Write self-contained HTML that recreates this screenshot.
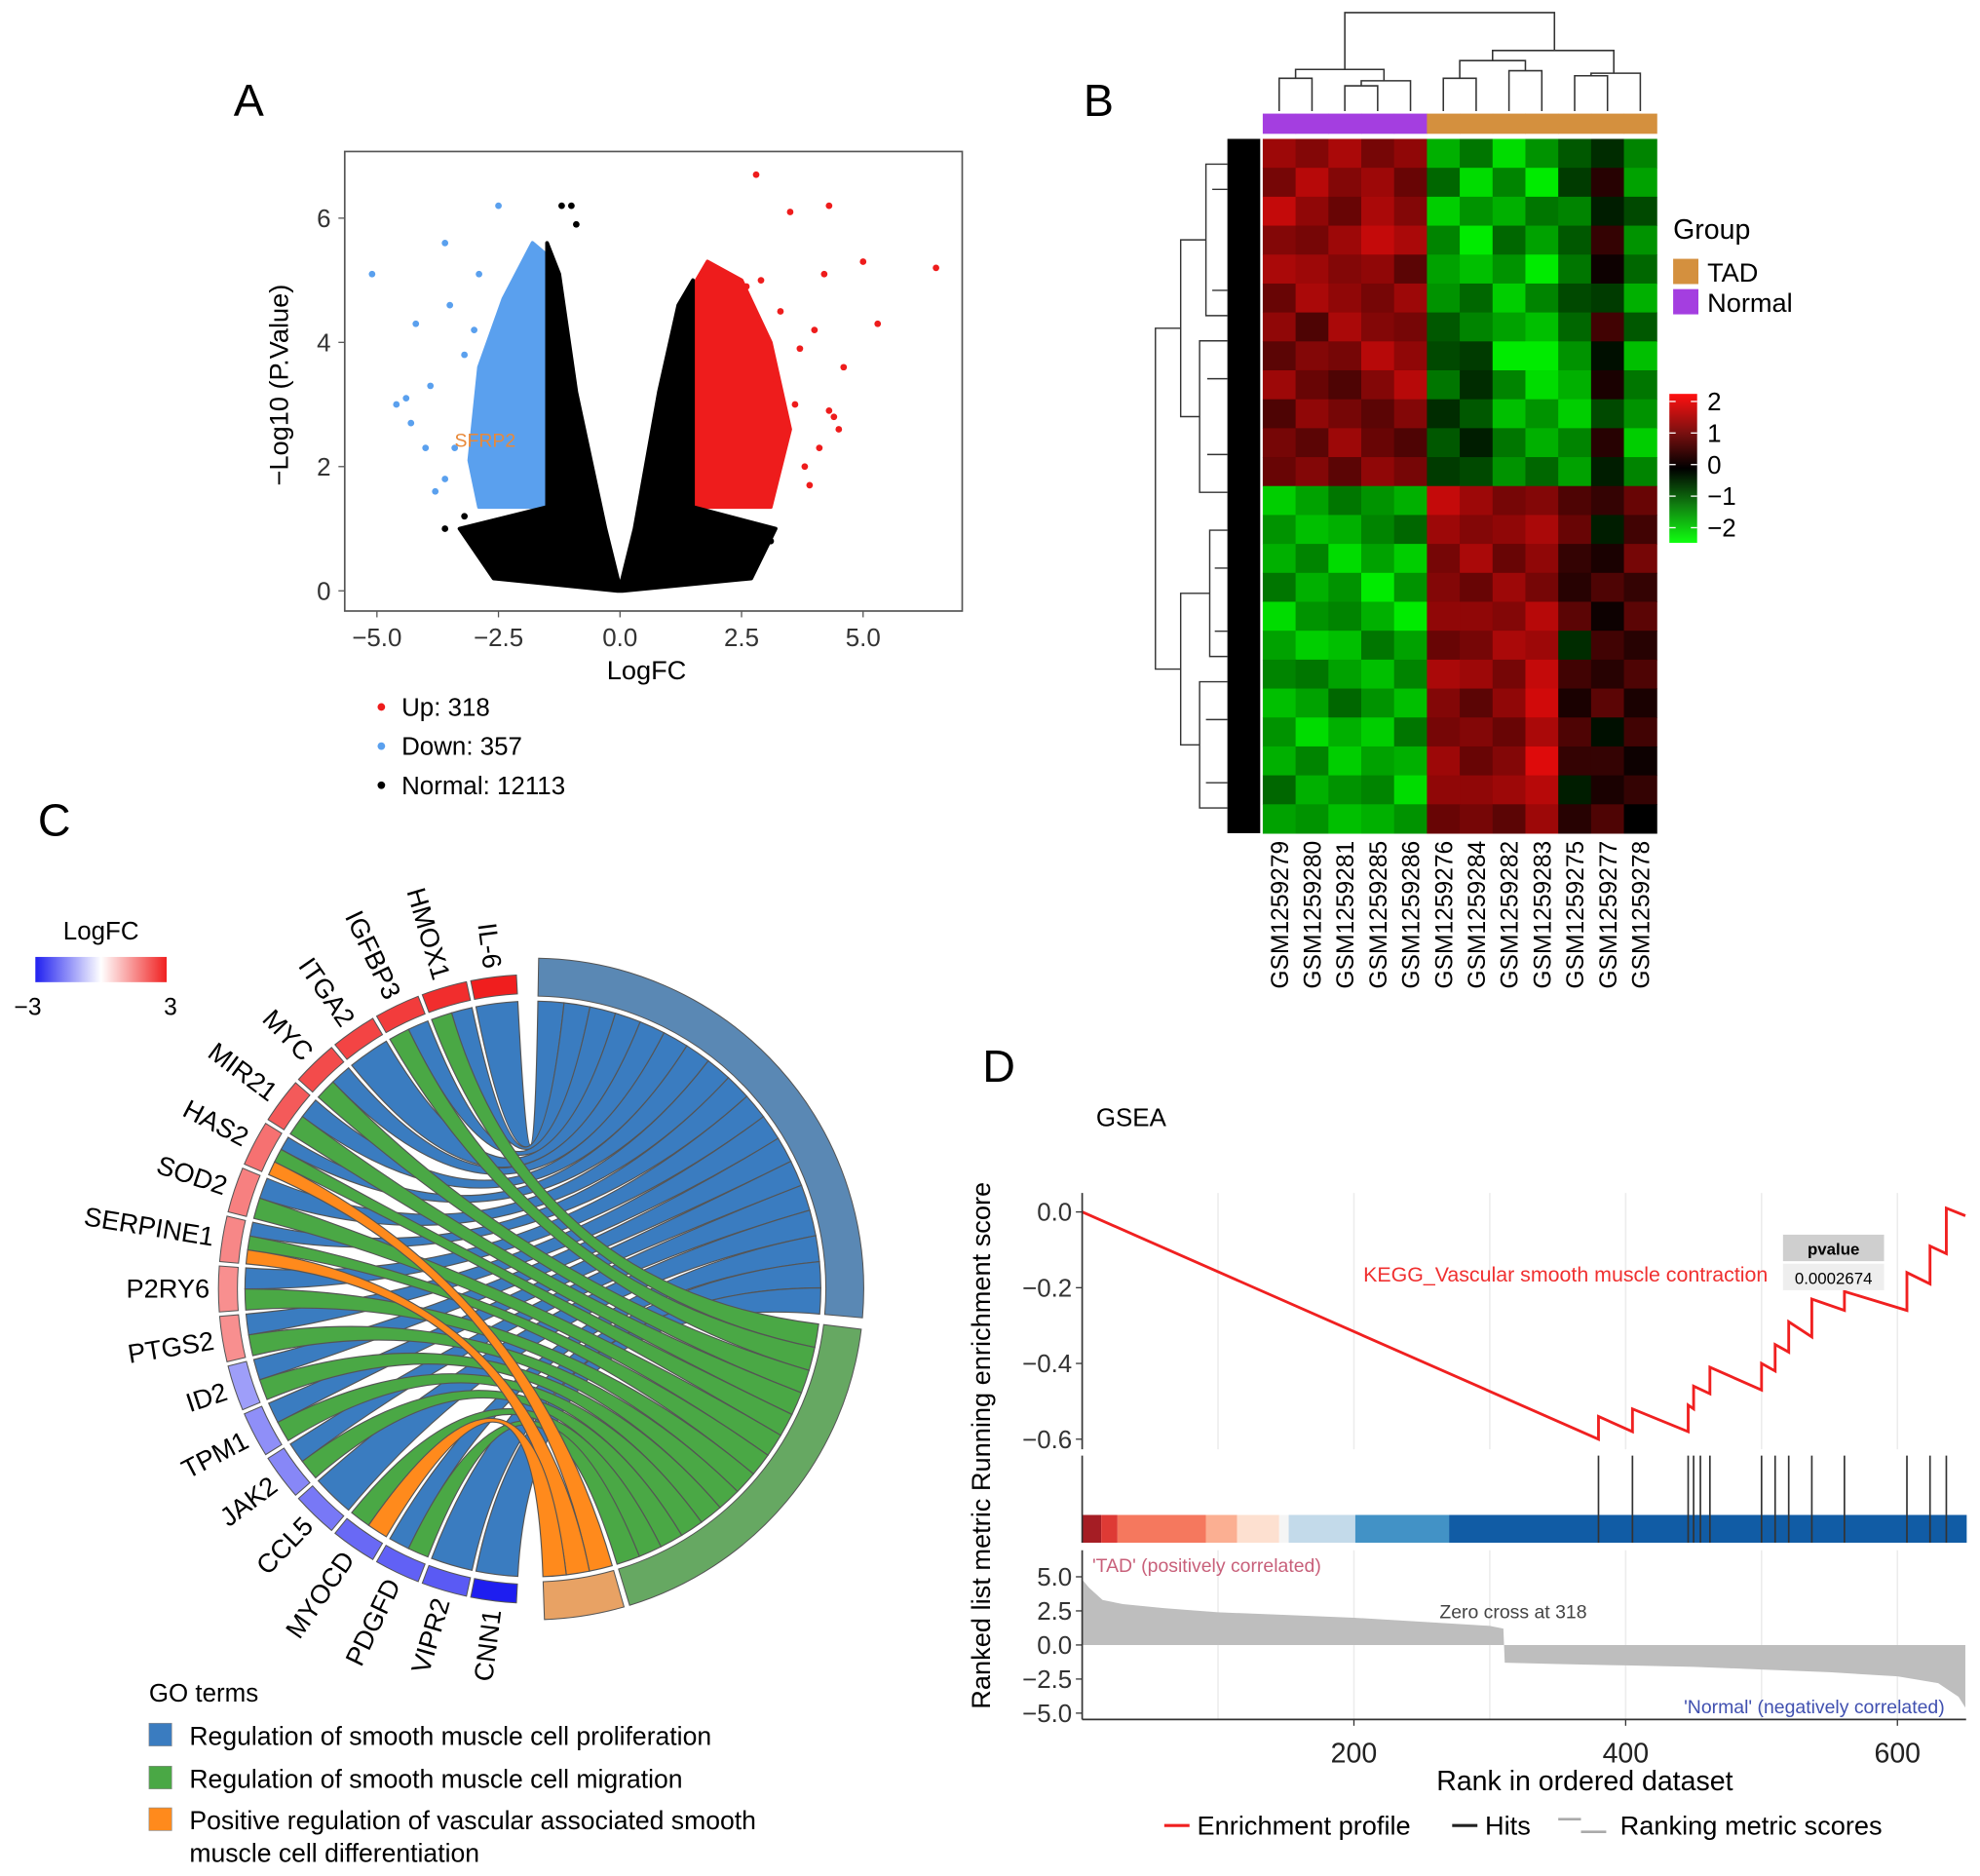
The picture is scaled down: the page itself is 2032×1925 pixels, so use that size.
<!DOCTYPE html>
<html><head><meta charset="utf-8"><style>
html,body{margin:0;padding:0;background:#fff;}
svg{display:block;font-family:"Liberation Sans",Arial,sans-serif;}
</style></head><body>
<svg id="fig" xmlns="http://www.w3.org/2000/svg" width="2032" height="1925" viewBox="0 0 1568 1486" preserveAspectRatio="none">
<defs>
<linearGradient id="hmgrad" x1="0" y1="0" x2="0" y2="1">
<stop offset="0" stop-color="#ff1010"/><stop offset="0.25" stop-color="#801010"/><stop offset="0.5" stop-color="#000"/><stop offset="0.75" stop-color="#108010"/><stop offset="1" stop-color="#10ff10"/></linearGradient>
<linearGradient id="fcgrad" x1="0" y1="0" x2="1" y2="0">
<stop offset="0" stop-color="#2020f0"/><stop offset="0.5" stop-color="#ffffff"/><stop offset="1" stop-color="#f02020"/></linearGradient>
</defs>
<g id="A"></g>
<g id="B"></g>
<g id="C"></g>
<g id="D"></g>
</svg>
<script>
// ---------- DATA ----------
const volcanoUpX=[2.8,3.5,4.3,5.0,6.5,5.3,4.6,4.2,4.0,4.3,4.1,3.8,3.6,3.3,3.7,4.4,3.1,2.9,3.9,4.5,3.2,2.6];
const volcanoUpY=[6.7,6.1,6.2,5.3,5.2,4.3,3.6,5.1,4.2,2.9,2.3,2.0,3.0,4.5,3.9,2.8,1.6,5.0,1.7,2.6,3.4,4.9];
const volcanoDownX=[-5.1,-2.5,-3.6,-4.2,-4.6,-4.3,-3.9,-3.5,-4.0,-3.6,-3.2,-3.4,-4.4,-3.0,-2.9,-3.8];
const volcanoDownY=[5.1,6.2,5.6,4.3,3.0,2.7,3.3,4.6,2.3,1.8,3.8,2.3,3.1,4.2,5.1,1.6];
const volcanoNormX=[-1.2,-1.0,-3.2,-2.8,-0.9,-3.6,3.1];
const volcanoNormY=[6.2,6.2,1.2,0.9,5.9,1.0,0.8];
const blackCloud=[[-0.05,0],[-2.6,0.2],[-3.3,1.0],[-1.5,1.35],[-1.5,5.6],[-1.25,5.1],[-0.9,3.2],[-0.3,1.0],[0,0.05],[0.3,1.0],[0.8,3.2],[1.2,4.6],[1.5,5.0],[1.5,1.35],[3.2,1.0],[2.7,0.2],[0.05,0]];
const blueCloud=[[-1.5,1.35],[-2.9,1.35],[-3.1,2.1],[-2.9,3.6],[-2.4,4.7],[-1.8,5.6],[-1.5,5.4]];
const redCloud=[[1.5,1.35],[3.1,1.35],[3.5,2.6],[3.1,4.0],[2.5,5.0],[1.8,5.3],[1.5,4.9]];
const volcanoXTicks=[-5.0,-2.5,0.0,2.5,5.0];
const volcanoYTicks=[0,2,4,6];

const heatSamples=["GSM1259279","GSM1259280","GSM1259281","GSM1259285","GSM1259286","GSM1259276","GSM1259284","GSM1259282","GSM1259283","GSM1259275","GSM1259277","GSM1259278"];
const heatGroups=["Normal","Normal","Normal","Normal","Normal","TAD","TAD","TAD","TAD","TAD","TAD","TAD"];
const heatValues=[
[1.2,1.0,1.3,0.9,1.1,-1.2,-0.8,-1.5,-1.0,-0.6,-0.3,-0.9],
[0.9,1.4,1.0,1.2,0.8,-0.7,-1.5,-0.9,-1.7,-0.4,0.3,-1.1],
[1.5,1.1,0.8,1.3,1.0,-1.4,-1.0,-1.2,-0.8,-0.9,-0.2,-0.5],
[1.0,0.9,1.2,1.5,1.3,-0.9,-1.8,-0.7,-1.1,-0.6,0.4,-1.0],
[1.3,1.2,1.0,1.1,0.7,-1.1,-1.3,-1.0,-1.6,-0.8,0.1,-0.7],
[0.8,1.3,1.1,0.9,1.2,-1.0,-0.7,-1.4,-0.9,-0.5,-0.4,-1.2],
[1.1,0.6,1.3,1.0,0.9,-0.6,-0.9,-1.1,-1.3,-0.7,0.5,-0.6],
[0.7,1.0,0.9,1.4,1.1,-0.5,-0.4,-1.6,-1.8,-1.0,-0.1,-1.3],
[1.2,0.8,0.6,1.0,1.4,-0.8,-0.3,-0.9,-1.5,-1.2,0.2,-0.8],
[0.6,1.1,0.9,0.7,1.0,-0.3,-0.6,-1.3,-1.0,-1.4,-0.5,-1.0],
[0.9,0.7,1.2,0.8,0.6,-0.6,-0.2,-0.8,-1.2,-0.9,0.3,-1.4],
[0.8,1.0,0.7,1.1,0.9,-0.4,-0.5,-1.0,-0.7,-1.1,-0.2,-0.9],
[-1.4,-1.1,-0.8,-1.0,-1.2,1.5,1.2,0.9,1.0,0.6,0.4,0.8],
[-1.0,-1.3,-1.2,-0.9,-0.7,1.2,1.0,1.1,1.3,0.8,-0.2,0.5],
[-1.2,-0.9,-1.5,-1.1,-1.4,0.9,1.3,0.8,1.1,0.4,0.2,0.9],
[-0.8,-1.2,-1.0,-1.6,-1.0,1.0,0.8,1.2,0.9,0.3,0.6,0.4],
[-1.5,-1.0,-0.9,-1.2,-1.6,1.1,1.1,1.0,1.4,0.7,0.1,0.7],
[-1.1,-1.4,-1.3,-0.8,-1.1,0.8,0.9,1.3,1.2,-0.3,0.5,0.3],
[-0.9,-0.8,-1.1,-1.3,-0.9,1.3,1.2,0.9,1.5,0.5,0.3,0.6],
[-1.3,-1.1,-0.7,-1.0,-1.3,1.0,0.7,1.1,1.6,0.2,0.7,0.2],
[-1.0,-1.5,-1.2,-1.4,-0.8,0.9,1.0,0.8,1.3,0.6,-0.1,0.5],
[-1.2,-0.9,-1.4,-1.1,-1.2,1.2,0.8,1.0,1.7,0.4,0.4,0.1],
[-0.7,-1.2,-1.0,-0.9,-1.5,1.1,1.1,1.2,1.4,-0.2,0.2,0.4],
[-1.1,-1.0,-1.3,-1.2,-1.0,0.8,0.9,0.7,1.2,0.3,0.6,0.0]];
const heatScaleTicks=[2,1,0,-1,-2];

const chordGenes=["IL-6","HMOX1","IGFBP3","ITGA2","MYC","MIR21","HAS2","SOD2","SERPINE1","P2RY6","PTGS2","ID2","TPM1","JAK2","CCL5","MYOCD","PDGFD","VIPR2","CNN1"];
const chordLogFC=[3.0,2.8,2.6,2.5,2.4,2.2,1.9,1.7,1.6,1.5,1.5,-1.3,-1.5,-1.6,-1.8,-2.0,-2.1,-2.2,-3.0];
const goTerms=["Regulation of smooth muscle cell proliferation","Regulation of smooth muscle cell migration","Positive regulation of vascular associated smooth muscle cell differentiation"];
const chordLinks=[[0,0],[1,0],[1,1],[2,0],[2,1],[3,0],[4,0],[4,1],[5,0],[5,1],[6,0],[6,1],[6,2],[7,0],[7,1],[8,0],[8,1],[8,2],[9,0],[9,1],[10,0],[10,1],[11,0],[11,1],[12,0],[12,1],[13,0],[13,1],[14,0],[15,1],[15,2],[16,0],[16,1],[17,0],[18,0]];

const esRanks=[0,380,380,405,405,446,446,450,450,462,462,500,500,510,510,520,520,537,537,561,561,607,607,624,624,636,636,650];
const esValues=[0,-0.60,-0.54,-0.58,-0.52,-0.58,-0.51,-0.52,-0.46,-0.48,-0.41,-0.47,-0.40,-0.42,-0.35,-0.37,-0.29,-0.33,-0.23,-0.26,-0.21,-0.26,-0.16,-0.19,-0.09,-0.11,0.01,-0.01];
const hitRanks=[380,405,446,450,455,462,500,510,520,537,561,607,624,636];
const metricRanks=[0,5,15,30,60,100,150,200,250,300,310,311,350,400,450,500,550,600,630,645,650];
const metricValues=[4.8,4.2,3.3,3.0,2.7,2.4,2.2,2.0,1.7,1.4,1.2,-1.3,-1.4,-1.5,-1.6,-1.8,-2.0,-2.3,-2.8,-3.8,-4.6];
const esTicks=[0.0,-0.2,-0.4,-0.6];
const metricTicks=[5.0,2.5,0.0,-2.5,-5.0];
const rankTicks=[200,400,600];

// ---------- HELPERS ----------
const NS='http://www.w3.org/2000/svg';
function mk(p,tag,at,txt){const e=document.createElementNS(NS,tag);for(const k in at)e.setAttribute(k,at[k]);if(txt!=null)e.textContent=txt;p.appendChild(e);return e;}
const fmt=v=>(v<0?'\u2212':'')+Math.abs(v).toFixed(1);

// ---------- PANEL A ----------
(function(){
const g=document.getElementById('A');
const xA=v=>491+v*38.5, yA=v=>468-v*49.2;
let t=mk(g,'text',{x:185,y:92,'font-size':36},'A');


const poly=(pts,fill,name)=>{const e=mk(g,'polygon',{points:pts.map(p=>xA(p[0])+','+yA(p[1])).join(' '),fill:fill,stroke:fill,'stroke-width':3,'stroke-linejoin':'round'});

};
poly(blueCloud,'#5aa0ee','down-points-cloud');
poly(redCloud,'#ee1c1c','up-points-cloud');
poly(blackCloud,'#000','normal-points-cloud');
const dots=(xs,ys,c,name)=>xs.forEach((x,i)=>{const d=mk(g,'circle',{cx:xA(x),cy:yA(ys[i]),r:2.6,fill:c});

});
dots(volcanoUpX,volcanoUpY,'#ee1c1c','up-point');
dots(volcanoDownX,volcanoDownY,'#5aa0ee','down-point');
dots(volcanoNormX,volcanoNormY,'#000','normal-point');
const box=mk(g,'rect',{x:273,y:120,width:489,height:364,fill:'none',stroke:'#555','stroke-width':1.3});


volcanoXTicks.forEach(v=>{mk(g,'line',{x1:xA(v),x2:xA(v),y1:484,y2:489,stroke:'#555'});
const e=mk(g,'text',{x:xA(v),y:512,'font-size':20,'text-anchor':'middle',fill:'#333'},fmt(v));

});
volcanoYTicks.forEach(v=>{mk(g,'line',{x1:268,x2:273,y1:yA(v),y2:yA(v),stroke:'#555'});
const e=mk(g,'text',{x:262,y:yA(v)+7,'font-size':20,'text-anchor':'end',fill:'#333'},String(v));

});
t=mk(g,'text',{x:512,y:538,'font-size':21,'text-anchor':'middle'},'LogFC');


t=mk(g,'text',{x:0,y:0,'font-size':21,'text-anchor':'middle',transform:'translate(228,305) rotate(-90)'},'\u2212Log10 (P.Value)');


t=mk(g,'text',{x:360,y:354,'font-size':15,fill:'#e8893a'},'SFRP2');


[['#ee1c1c','Up: 318'],['#5aa0ee','Down: 357'],['#000','Normal: 12113']].forEach((l,i)=>{
const y=560+i*31;
const c=mk(g,'circle',{cx:302,cy:y,r:3,fill:l[0]});


const e=mk(g,'text',{x:318,y:y+7,'font-size':20},l[1]);

});
})();

// ---------- PANEL B ----------
(function(){
const g=document.getElementById('B');
const x0=1000,cw=26,y0=110,rh=550/heatValues.length;
let t=mk(g,'text',{x:858,y:92,'font-size':36},'B');


const col=v=>{if(v>=0){const r=Math.round(Math.min(1,v/1.8)*235);return 'rgb('+r+','+Math.round(r*0.05)+','+Math.round(r*0.05)+')';}
const gg=Math.round(Math.min(1,-v/1.6)*235);return 'rgb(0,'+gg+',0)';};
heatValues.forEach((row,i)=>row.forEach((v,j)=>{
const r=mk(g,'rect',{x:x0+j*cw,y:y0+i*rh,width:cw+0.4,height:rh+0.4,fill:col(v)});

}));
heatGroups.forEach((gr,j)=>{const r=mk(g,'rect',{x:x0+j*cw,y:90,width:cw+0.4,height:16,fill:gr==='TAD'?'#d4903e':'#a43ee0'});

});
heatSamples.forEach((s,j)=>{const e=mk(g,'text',{x:0,y:0,'font-size':19,'text-anchor':'end',transform:'translate('+(x0+j*cw+cw/2+7)+',666) rotate(-90)'},s);

});
const cx=j=>x0+j*cw+cw/2;
const dg=mk(g,'path',{fill:'none',stroke:'#333','stroke-width':1.2,d:
`M${cx(0)},88V62H${cx(1)}V88 M${cx(2)},88V68H${cx(3)}V88 M${(cx(2)+cx(3))/2},68V64H${cx(4)}V88 M${(cx(0)+cx(1))/2},62V55H${(cx(2)+cx(4))/2+5}V64
M${cx(5)},88V62H${cx(6)}V88 M${cx(7)},88V56H${cx(8)}V88 M${(cx(5)+cx(6))/2},62V48H${(cx(7)+cx(8))/2}V56 M${cx(9)},88V60H${cx(10)}V88 M${(cx(9)+cx(10))/2},60V58H${cx(11)}V88 M${(cx(5)+cx(8))/2},48V40H${(cx(9)+cx(11))/2+5}V58
M${(cx(0)+cx(4))/2},55V10H${(cx(5)+cx(11))/2+10}V40`});


const lf=mk(g,'rect',{x:972,y:110,width:26,height:550,fill:'#000'});


let d='M972,130H955V250H972 M972,270H950V390H972 M955,190H935V330H950 M972,420H958V520H972 M972,540H950V640H972 M958,470H935V590H950 M935,260H915V530H935 M960,150H972 M960,230H972 M956,300H972 M956,360H972 M962,450H972 M962,500H972 M955,570H972 M955,620H972';
const rd=mk(g,'path',{d:d,fill:'none',stroke:'#333','stroke-width':1.1});


t=mk(g,'text',{x:1325,y:189,'font-size':22},'Group');


[['#d4903e','TAD',205],['#a43ee0','Normal',229]].forEach(l=>{
const r=mk(g,'rect',{x:1325,y:l[2],width:20,height:20,fill:l[0]});


const e=mk(g,'text',{x:1352,y:l[2]+18,'font-size':21},l[1]);

});
const cb=mk(g,'rect',{x:1322,y:312,width:22,height:118,fill:'url(#hmgrad)'});


heatScaleTicks.forEach((v,i)=>{const y=318+i*25;
mk(g,'line',{x1:1322,x2:1327,y1:y,y2:y,stroke:'#fff'});mk(g,'line',{x1:1339,x2:1344,y1:y,y2:y,stroke:'#fff'});
const e=mk(g,'text',{x:1352,y:y+7,'font-size':20},v<0?'\u2212'+(-v):String(v));

});
})();

// ---------- PANEL C ----------
(function(){
const g=document.getElementById('C');
const CX=422,CY=1021;
const pt=(a,r)=>[CX+r*Math.sin(a*Math.PI/180),CY-r*Math.cos(a*Math.PI/180)];
let t=mk(g,'text',{x:30,y:662,'font-size':36},'C');


t=mk(g,'text',{x:80,y:744,'font-size':20,'text-anchor':'middle'},'LogFC');


const fb=mk(g,'rect',{x:28,y:758,width:104,height:20,fill:'url(#fcgrad)'});


t=mk(g,'text',{x:22,y:804,'font-size':19,'text-anchor':'middle'},'\u22123');


t=mk(g,'text',{x:135,y:804,'font-size':19,'text-anchor':'middle'},'3');


const goRange=[[1,95],[97,163],[164,178]];
const goChord=['#3a7cc0','#4aa845','#ff8a1c'];
const goRing=['#5a88b4','#66a862','#e8a264'];
const geneRange=i=>{const s=-3-i*9.2;return [s,s-8.4];};
const geneCount=chordGenes.map((_,i)=>chordLinks.filter(l=>l[0]===i).length);
const goCount=goTerms.map((_,k)=>chordLinks.filter(l=>l[1]===k).length);
const geneUsed=chordGenes.map(()=>0), goUsed=goTerms.map(()=>0);
const R=228;
const arc=(a1,a2,r)=>{const p=pt(a2,r);return 'A'+r+','+r+' 0 0,0 '+p[0]+','+p[1];};
const ribbons=chordLinks.map(l=>{
const [gi,k]=l;const gr=geneRange(gi);const gw=(gr[0]-gr[1])/geneCount[gi];
const a1=gr[0]-geneUsed[gi]*gw,a2=a1-gw;geneUsed[gi]++;
const kr=goRange[k];const kw=(kr[1]-kr[0])/goCount[k];
const b1=kr[0]+goUsed[k]*kw,b2=b1+kw;goUsed[k]++;
return {k,a1,a2,b1,b2};});
[0,1,2].forEach(k=>ribbons.filter(r=>r.k===k).forEach(r=>{
const p1=pt(r.a1,R),p3=pt(r.b2,R);
const d='M'+p1+' '+arc(r.a1,r.a2,R)+' Q'+CX+','+CY+' '+p3+' '+arc(r.b2,r.b1,R)+' Q'+CX+','+CY+' '+p1+'Z';
const e=mk(g,'path',{d:d,fill:goChord[k],stroke:'#555','stroke-width':0.9});

}));
const seg=(a1,a2,r1,r2,fill,name,sweepNeg)=>{
const p1=pt(a1,r2),p2=pt(a2,r2),p3=pt(a2,r1),p4=pt(a1,r1);const sw=sweepNeg?0:1;
const lg=Math.abs(a2-a1)>180?1:0;
const d='M'+p1+' A'+r2+','+r2+' 0 '+lg+','+sw+' '+p2+' L'+p3+' A'+r1+','+r1+' 0 '+lg+','+(1-sw)+' '+p4+'Z';
const e=mk(g,'path',{d:d,fill:fill,stroke:'#555','stroke-width':0.8});

};
goTerms.forEach((_,k)=>seg(goRange[k][0],goRange[k][1],232,262,goRing[k],'go-term-sector',false));
const fcCol=v=>{const f=Math.min(1,Math.abs(v)/3);
if(v>=0)return 'rgb('+Math.round(255-15*f)+','+Math.round(255-225*f)+','+Math.round(255-225*f)+')';
return 'rgb('+Math.round(255-225*f)+','+Math.round(255-225*f)+','+Math.round(255-15*f)+')';};
chordGenes.forEach((name,i)=>{const gr=geneRange(i);
seg(gr[0],gr[1],234,249,fcCol(chordLogFC[i]),'gene-sector',true);
const am=(gr[0]+gr[1])/2;const p=pt(am,256);
const th=am*Math.PI/180;const rot=Math.atan2(Math.cos(th),-Math.sin(th))*180/Math.PI;
const e=mk(g,'text',{x:0,y:0,'font-size':21,'text-anchor':'end',transform:'translate('+p[0]+','+p[1]+') rotate('+rot+') translate(0,7)'},name);

});
t=mk(g,'text',{x:118,y:1348,'font-size':20},'GO terms');


[[1365,goTerms[0]],[1399,goTerms[1]],[1432,'Positive regulation of vascular associated smooth']].forEach((l,k)=>{
const r=mk(g,'rect',{x:118,y:l[0],width:18,height:18,fill:goChord[k],stroke:'#888','stroke-width':0.5});


const e=mk(g,'text',{x:150,y:l[0]+17,'font-size':20.5},l[1]);

});
t=mk(g,'text',{x:150,y:1475,'font-size':20.5},'muscle cell differentiation');


})();

// ---------- PANEL D ----------
(function(){
const g=document.getElementById('D');
const xD=r=>857+r*1.076, yES=v=>960-v*300, yM=v=>1303-v*10.8;
let t=mk(g,'text',{x:778,y:857,'font-size':36},'D');


t=mk(g,'text',{x:868,y:892,'font-size':20},'GSEA');


[100,200,300,400,500,600].forEach(r=>{
mk(g,'line',{x1:xD(r),x2:xD(r),y1:945,y2:1148,stroke:'#ececec','stroke-width':1.2});
mk(g,'line',{x1:xD(r),x2:xD(r),y1:1228,y2:1362,stroke:'#ececec','stroke-width':1.2});});
const es=mk(g,'polyline',{points:esRanks.map((r,i)=>xD(r)+','+yES(esValues[i])).join(' '),fill:'none',stroke:'#f02020','stroke-width':2.2});


mk(g,'line',{x1:857,x2:857,y1:945,y2:1148,stroke:'#333','stroke-width':1.3});
esTicks.forEach(v=>{mk(g,'line',{x1:852,x2:857,y1:yES(v),y2:yES(v),stroke:'#333'});
const e=mk(g,'text',{x:849,y:yES(v)+7,'font-size':20,'text-anchor':'end',fill:'#333'},fmt(v));

});
t=mk(g,'text',{x:1400,y:1015,'font-size':16.5,'text-anchor':'end',fill:'#f03030'},'KEGG_Vascular smooth muscle contraction');


let r=mk(g,'rect',{x:1412,y:978,width:80,height:21,fill:'#cfcfcf'});


t=mk(g,'text',{x:1452,y:994,'font-size':13,'font-weight':'bold','text-anchor':'middle'},'pvalue');


r=mk(g,'rect',{x:1412,y:1001,width:80,height:21,fill:'#eeeeee'});


t=mk(g,'text',{x:1452,y:1017,'font-size':13,'text-anchor':'middle'},'0.0002674');


const strip=[[0,14,'#a51d24'],[14,26,'#de3a35'],[26,91,'#f5785e'],[91,114,'#fbaf92'],[114,145,'#fde0d0'],[145,152,'#f5f5f5'],[152,201,'#c3daea'],[201,270,'#4292c6'],[270,651,'#115ca5']];
strip.forEach(s=>{const e=mk(g,'rect',{x:xD(s[0]),y:1200,width:xD(s[1])-xD(s[0]),height:22,fill:s[2]});

});
hitRanks.forEach(h=>{const e=mk(g,'line',{x1:xD(h),x2:xD(h),y1:1153,y2:1222,stroke:'#333','stroke-width':1.3});

});
mk(g,'line',{x1:857,x2:857,y1:1153,y2:1222,stroke:'#333','stroke-width':1.3});
let pts=xD(metricRanks[0])+','+yM(0)+' '+metricRanks.map((rk,i)=>xD(rk)+','+yM(metricValues[i])).join(' ')+' '+xD(metricRanks[metricRanks.length-1])+','+yM(0);
const ar=mk(g,'polygon',{points:pts,fill:'#bebebe'});


mk(g,'line',{x1:857,x2:857,y1:1228,y2:1362,stroke:'#333','stroke-width':1.3});
mk(g,'line',{x1:857,x2:1557,y1:1362,y2:1362,stroke:'#333','stroke-width':1.3});
metricTicks.forEach(v=>{mk(g,'line',{x1:852,x2:857,y1:yM(v),y2:yM(v),stroke:'#333'});
const e=mk(g,'text',{x:849,y:yM(v)+7,'font-size':20,'text-anchor':'end',fill:'#333'},fmt(v));

});
rankTicks.forEach(v=>{mk(g,'line',{x1:xD(v),x2:xD(v),y1:1362,y2:1367,stroke:'#333'});
const e=mk(g,'text',{x:xD(v),y:1396,'font-size':22,'text-anchor':'middle',fill:'#222'},String(v));

});
t=mk(g,'text',{x:865,y:1245,'font-size':15,fill:'#c8607a'},"'TAD' (positively correlated)");


t=mk(g,'text',{x:1140,y:1282,'font-size':15,fill:'#444'},'Zero cross at 318');


t=mk(g,'text',{x:1540,y:1357,'font-size':15,'text-anchor':'end',fill:'#4050b0'},"'Normal' (negatively correlated)");


t=mk(g,'text',{x:1255,y:1418,'font-size':22,'text-anchor':'middle'},'Rank in ordered dataset');


t=mk(g,'text',{x:0,y:0,'font-size':21,'text-anchor':'middle',transform:'translate(784,1145) rotate(-90)'},'Ranked list metric Running enrichment score');


mk(g,'line',{x1:922,x2:942,y1:1446,y2:1446,stroke:'#f02020','stroke-width':2.5});
t=mk(g,'text',{x:948,y:1453,'font-size':21},'Enrichment profile');


mk(g,'line',{x1:1150,x2:1170,y1:1446,y2:1446,stroke:'#222','stroke-width':2.5});
t=mk(g,'text',{x:1176,y:1453,'font-size':21},'Hits');


mk(g,'line',{x1:1234,x2:1252,y1:1441,y2:1441,stroke:'#aaa','stroke-width':2});
mk(g,'line',{x1:1252,x2:1272,y1:1451,y2:1451,stroke:'#aaa','stroke-width':2});
t=mk(g,'text',{x:1283,y:1453,'font-size':21},'Ranking metric scores');


})();
</script>
</body></html>
